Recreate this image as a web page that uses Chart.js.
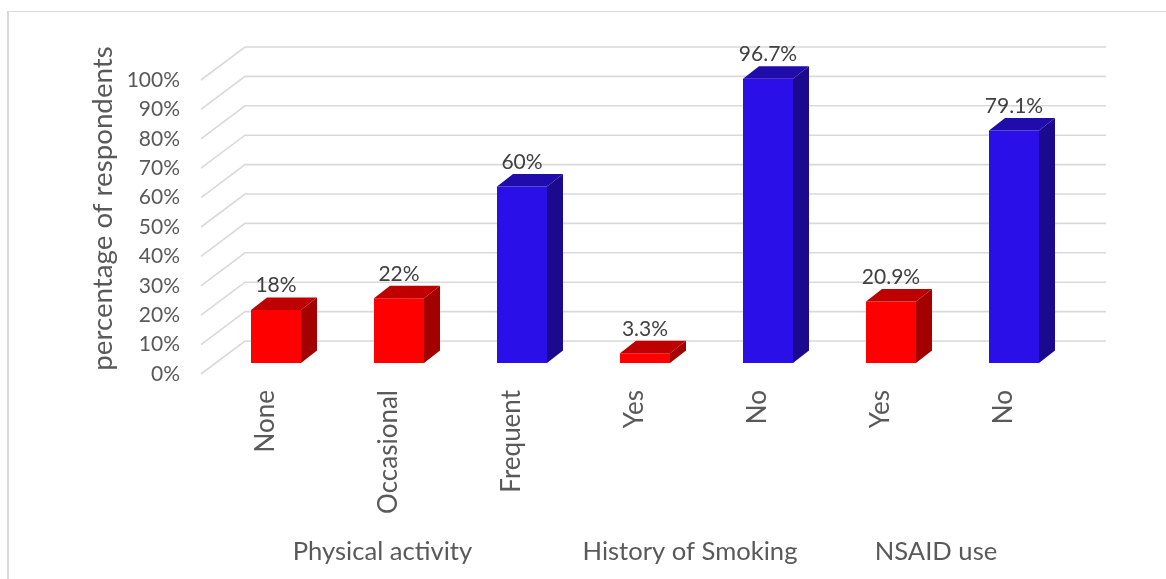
<!DOCTYPE html>
<html>
<head>
<meta charset="utf-8">
<style>
  html, body { margin: 0; background: #fff; overflow: hidden; }
  #wrap { position: relative; width: 1166px; height: 579px; }
  #frame { position: absolute; left: 7px; top: 11px; right: 0; bottom: 0; border-left: 2px solid #d9d9d9; border-top: 1px solid #d9d9d9; }
  canvas { position: absolute; left: 0; top: 0; }
</style>
<script src="https://cdn.jsdelivr.net/npm/chart.js@4"></script>
</head>
<body>
<div id="wrap">
  <div id="frame"></div>
  <canvas id="chart" width="1166" height="579"></canvas>
</div>
<script>
const categories = ['None', 'Occasional', 'Frequent', 'Yes', 'No', 'Yes', 'No'];
const percentages = [18, 22, 60, 3.3, 96.7, 20.9, 79.1];
const groupNames = ['Physical activity', 'History of Smoking', 'NSAID use'];
const groupFirst = [0, 3, 5];
const groupLast = [2, 4, 6];
const yTicks = [0, 10, 20, 30, 40, 50, 60, 70, 80, 90, 100];
const yTitle = 'percentage of respondents';

const FONT = 'Lato, "Open Sans", sans-serif';
const TEXT = '#595959';
const RED = {front: '#ff0000', top: '#bf0000', side: '#a30000'};
const BLUE = {front: '#2a0fe8', top: '#200bab', side: '#1b0a8e'};
const shade = v => v >= 50 ? BLUE : RED;

// fake 3D: floor depth, and how far the bars sit inside it
const wallDx = 44, wallDy = -33;
const barShiftX = 13.5, barShiftY = -11;
const barDx = 16, barDy = -12.5;

const wallPlugin = {
    id: 'wall',
    beforeDatasetsDraw(chart) {
        const {ctx, chartArea} = chart;
        const y = chart.scales.y;
        const right = chartArea.right + wallDx;
        ctx.save();
        ctx.strokeStyle = '#d9d9d9';
        ctx.lineWidth = 1.6;
        yTicks.forEach(t => {
            const py = y.getPixelForValue(t);
            ctx.beginPath();
            ctx.moveTo(chartArea.left, py);
            ctx.lineTo(chartArea.left + wallDx, py + wallDy);
            ctx.lineTo(right, py + wallDy);
            ctx.stroke();
        });
        ctx.restore();
        ctx.save();
        ctx.translate(barShiftX, barShiftY);
    },
    afterDatasetsDraw(chart) {
        const {ctx} = chart;
        chart.getDatasetMeta(0).data.forEach((bar, i) => {
            const c = shade(percentages[i]);
            const l = bar.x - bar.width / 2, r = bar.x + bar.width / 2;
            ctx.fillStyle = c.side;
            ctx.beginPath();
            ctx.moveTo(r, bar.y);
            ctx.lineTo(r + barDx, bar.y + barDy);
            ctx.lineTo(r + barDx, bar.base + barDy);
            ctx.lineTo(r, bar.base);
            ctx.closePath();
            ctx.fill();
            ctx.fillStyle = c.top;
            ctx.beginPath();
            ctx.moveTo(l, bar.y);
            ctx.lineTo(l + barDx, bar.y + barDy);
            ctx.lineTo(r + barDx, bar.y + barDy);
            ctx.lineTo(r, bar.y);
            ctx.closePath();
            ctx.fill();
            ctx.fillStyle = '#404040';
            ctx.font = '21px ' + FONT;
            ctx.textAlign = 'center';
            ctx.textBaseline = 'middle';
            ctx.fillText(percentages[i] + '%', bar.x, bar.y + barDy - 12);
        });
        ctx.restore();

        // group captions under the rotated category labels
        const x = chart.scales.x;
        ctx.save();
        ctx.fillStyle = TEXT;
        ctx.font = '25.6px ' + FONT;
        ctx.textAlign = 'center';
        ctx.textBaseline = 'middle';
        groupNames.forEach((name, i) => {
            const mid = (x.getPixelForValue(groupFirst[i]) + x.getPixelForValue(groupLast[i])) / 2;
            ctx.fillText(name, mid - 3, 552);
        });
        // axis title sits above the middle of the axis, so it is placed by hand
        ctx.translate(103, 208.5);
        ctx.rotate(-Math.PI / 2);
        ctx.font = '27.7px ' + FONT;
        ctx.fillText(yTitle, 0, 0);
        ctx.restore();
    }
};

new Chart(document.getElementById('chart').getContext('2d'), {
    type: 'bar',
    data: {
        labels: categories,
        datasets: [{
            data: percentages,
            backgroundColor: percentages.map(v => shade(v).front),
            barPercentage: 50 / 123,
            categoryPercentage: 1
        }]
    },
    options: {
        responsive: false,
        animation: false,
        devicePixelRatio: 1,
        layout: {padding: {left: 0, right: 104, top: 80, bottom: 0}},
        plugins: {legend: {display: false}, tooltip: {enabled: false}},
        scales: {
            x: {
                afterFit: s => { s.height = 205; },
                border: {display: false},
                grid: {display: false, drawTicks: false},
                ticks: {
                    minRotation: 90, maxRotation: 90, autoSkip: false, padding: 16, labelOffset: 3,
                    color: TEXT, font: {family: FONT, size: 26}
                }
            },
            y: {
                min: 0,
                max: 100,
                afterFit: s => { s.width = 201; },
                border: {display: false},
                grid: {display: false, drawTicks: false},
                ticks: {
                    stepSize: 10, padding: 21, color: TEXT,
                    font: {family: FONT, size: 21},
                    callback: v => v + '%'
                }
            }
        }
    },
    plugins: [wallPlugin]
});
</script>
</body>
</html>
